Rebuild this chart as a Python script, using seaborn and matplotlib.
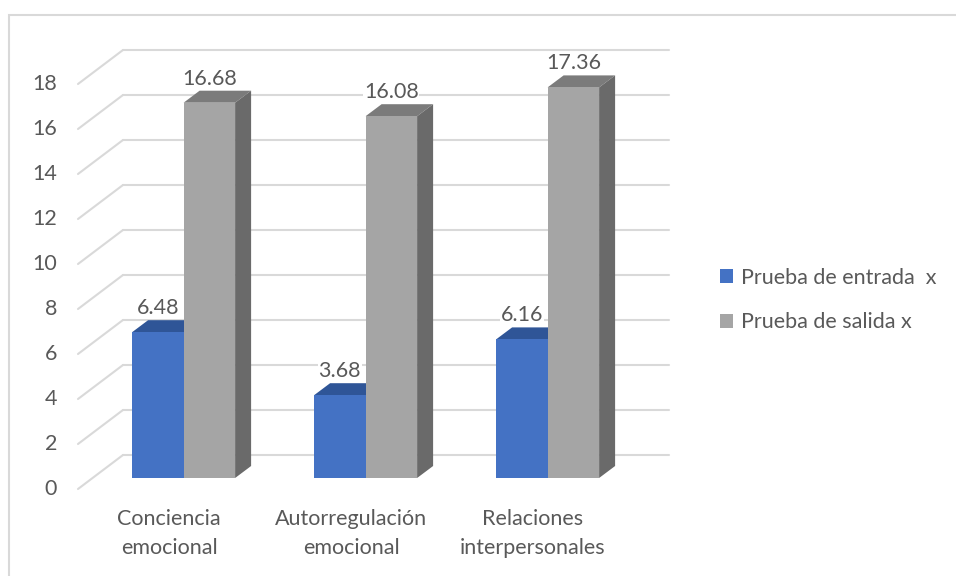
import matplotlib
matplotlib.use("Agg")
import matplotlib.pyplot as plt
import matplotlib.patches as mpatches
import seaborn as sns
import pandas as pd

# Datos del gráfico
categorias = ["Conciencia\nemocional", "Autorregulación\nemocional", "Relaciones\ninterpersonales"]
series = ["Prueba de entrada  x", "Prueba de salida x"]
entrada = [6.48, 3.68, 6.16]
salida = [16.68, 16.08, 17.36]
ticks_y = [0, 2, 4, 6, 8, 10, 12, 14, 16, 18]

colores = {"Prueba de entrada  x": "#4472C4", "Prueba de salida x": "#A5A5A5"}
colores_top = {"Prueba de entrada  x": "#2F5597", "Prueba de salida x": "#7B7B7B"}
colores_lado = {"Prueba de entrada  x": "#2F5597", "Prueba de salida x": "#6A6A6A"}
texto = "#595959"
grid = "#D9D9D9"
fs = 15.5

df = pd.DataFrame({
    "categoria": categorias * 2,
    "prueba": [series[0]] * 3 + [series[1]] * 3,
    "valor": entrada + salida,
})

sns.set_style("white")
plt.rcParams["font.family"] = ["Lato", "DejaVu Sans"]

W, H = 956, 576
fig = plt.figure(figsize=(W / 100, H / 100), dpi=100)

# ejes en el plano de las barras (pixeles de la imagen)
x0_px, x1_px = 92.6, 638.6
ytop_px, ybot_px = 73, 478
ax = fig.add_axes([x0_px / W, (H - ybot_px) / H, (x1_px - x0_px) / W, (ybot_px - ytop_px) / H])

sns.barplot(data=df, x="categoria", y="valor", hue="prueba", palette=colores,
            width=0.566, gap=0, saturation=1, linewidth=0, ax=ax, legend=True)
ax.set_xlim(-0.5, 2.5)
ax.set_ylim(0, 18)
ax.axis("off")

ppx = (x1_px - x0_px) / 3
ppy = (ybot_px - ytop_px) / 18

# desplazamientos en pixeles (x derecha, y arriba)
front = (-14.6, -11)
back = (30.4, 23)
prof = (16, 12)

def desp(x, y, d):
    return x + d[0] / ppx, y + d[1] / ppy

# paredes: lineas de cuadricula
for v in ticks_y:
    bx0, by = desp(-0.5, v, back)
    bx1, _ = desp(2.5, v, back)
    ax.plot([bx0, bx1], [by, by], color=grid, lw=1.5, zorder=0, clip_on=False)
    fx, fy = desp(-0.5, v, front)
    ax.plot([fx, bx0], [fy, by], color=grid, lw=1.5, zorder=0, clip_on=False)
    ax.text(fx - 21 / ppx, fy, str(v), ha="right", va="center", fontsize=fs, color=texto)

# caras 3D de las barras
barras = [p for p in ax.patches if isinstance(p, mpatches.Rectangle) and p.get_height() > 0]
nombres = [series[0]] * 3 + [series[1]] * 3
for p, nombre in zip(barras, nombres):
    xa, h, w = p.get_x(), p.get_height(), p.get_width()
    xb = xa + w
    p.set_zorder(3)
    dx, dy = prof[0] / ppx, prof[1] / ppy
    top = [(xa, h), (xb, h), (xb + dx, h + dy), (xa + dx, h + dy)]
    lado = [(xb, 0), (xb + dx, dy), (xb + dx, h + dy), (xb, h)]
    ax.add_patch(mpatches.Polygon(top, closed=True, facecolor=colores_top[nombre],
                                  edgecolor="none", zorder=2, clip_on=False))
    ax.add_patch(mpatches.Polygon(lado, closed=True, facecolor=colores_lado[nombre],
                                  edgecolor="none", zorder=2, clip_on=False))
    ax.text(xa + w / 2, h + 24 / ppy, f"{h:.2f}", ha="center", va="center", fontsize=fs,
            color=texto, zorder=5, bbox=dict(facecolor="white", edgecolor="none", pad=0.5))

# etiquetas de categoria
for i, cat in enumerate(categorias):
    cx, cy = desp(i, 0, front)
    ax.text(cx, cy - 20 / ppy, cat, ha="center", va="top", fontsize=fs, color=texto,
            linespacing=1.55)

# leyenda
handles, labels = ax.get_legend_handles_labels()
ax.legend(handles, labels, loc="center left", bbox_to_anchor=(720 / W, (H - 300) / H),
          bbox_transform=fig.transFigure, frameon=False, fontsize=fs, labelcolor=texto,
          handlelength=0.6, handleheight=0.6, handletextpad=0.37, labelspacing=1.15,
          borderpad=0, borderaxespad=0)

# borde exterior
fig.patches.append(mpatches.Rectangle((9 / W, -0.1), 1.2, 0.1 + (H - 15) / H, fill=False,
                                      edgecolor=grid, lw=1.5, transform=fig.transFigure))

fig.savefig("out.png", dpi=100)
